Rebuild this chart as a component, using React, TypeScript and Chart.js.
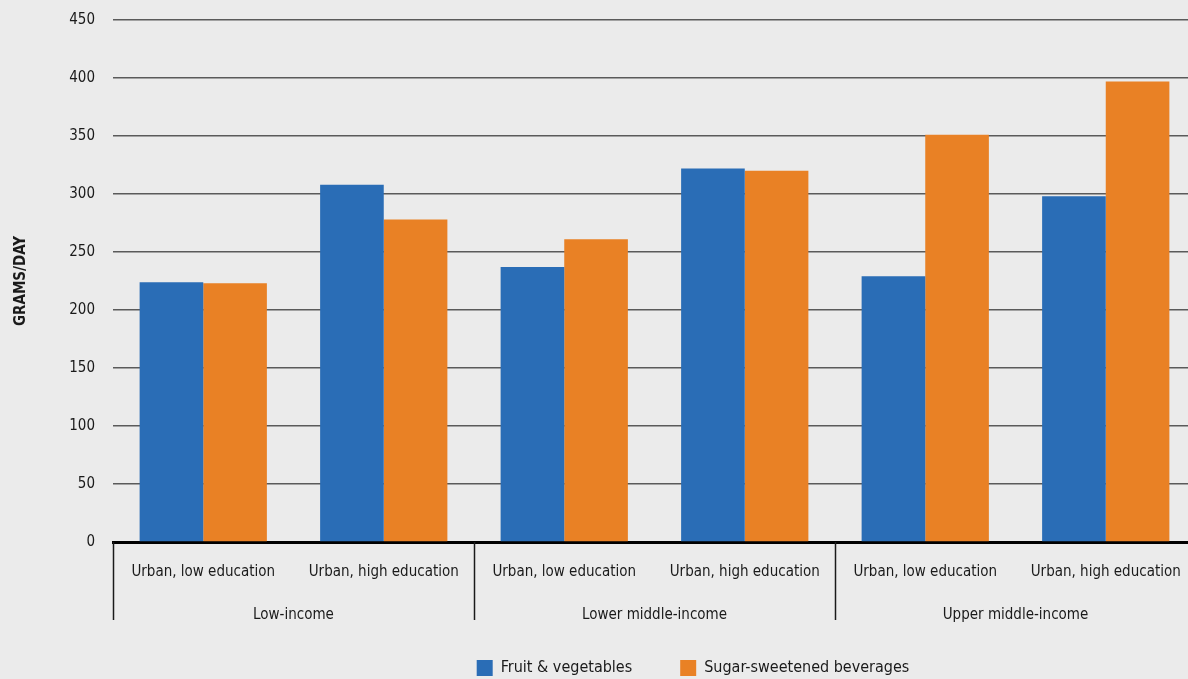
import React, { useEffect, useRef } from "react";
import { Chart, registerables } from "chart.js";

Chart.register(...registerables);

const subCategories = [
  "Urban, low education",
  "Urban, high education",
  "Urban, low education",
  "Urban, high education",
  "Urban, low education",
  "Urban, high education",
];
const groups = ["Low-income", "Lower middle-income", "Upper middle-income"];
const fruitVeg = [224, 308, 237, 322, 229, 298];
const sugarBev = [223, 278, 261, 320, 351, 397];
const seriesNames = ["Fruit & vegetables", "Sugar-sweetened beverages"];
const yMin = 0;
const yMax = 450;
const yStep = 50;
const yTitle = "GRAMS/DAY";

const FONT = '"Liberation Sans Narrow", "DejaVu Sans Condensed", "Open Sans", sans-serif';
const BLUE = "#2a6db6";
const ORANGE = "#e98125";
const TEXT = "#1a1a1a";

const groupPlugin = {
  id: "groupLabels",
  afterLayout(chart: any) {
    const lg = chart.legend;
    if (lg) {
      lg.left += 95;
      lg.right += 95;
    }
  },
  afterDraw(chart: any) {
    const x = chart.scales.x;
    const ctx = chart.ctx;
    const bottom = chart.chartArea.bottom;
    const step = x.getPixelForValue(1) - x.getPixelForValue(0);
    ctx.save();
    ctx.strokeStyle = "#1a1a1a";
    ctx.lineWidth = 1.5;
    ctx.fillStyle = TEXT;
    ctx.font = `15px ${FONT}`;
    ctx.textAlign = "center";
    ctx.textBaseline = "middle";
    for (let g = 0; g < groups.length; g++) {
      const l = x.getPixelForValue(2 * g) - step / 2;
      const r = x.getPixelForValue(2 * g + 1) + step / 2;
      ctx.beginPath();
      ctx.moveTo(Math.round(l) + 0.5, bottom);
      ctx.lineTo(Math.round(l) + 0.5, bottom + 78);
      ctx.stroke();
      if (g === groups.length - 1) {
        ctx.beginPath();
        ctx.moveTo(Math.round(r) + 0.5, bottom);
        ctx.lineTo(Math.round(r) + 0.5, bottom + 78);
        ctx.stroke();
      }
      ctx.fillText(groups[g], (l + r) / 2, bottom + 73);
    }
    ctx.restore();
  },
};

export default function App() {
  const ref = useRef<HTMLCanvasElement | null>(null);

  useEffect(() => {
    if (!ref.current) return;
    const chart = new Chart(ref.current, {
      type: "bar",
      data: {
        labels: subCategories,
        datasets: [
          {
            label: seriesNames[0],
            data: fruitVeg,
            backgroundColor: BLUE,
            borderWidth: 0,
            categoryPercentage: 0.705,
            barPercentage: 1,
          },
          {
            label: seriesNames[1],
            data: sugarBev,
            backgroundColor: ORANGE,
            borderWidth: 0,
            categoryPercentage: 0.705,
            barPercentage: 1,
          },
        ],
      },
      options: {
        responsive: false,
        animation: false,
        devicePixelRatio: 1,
        layout: { padding: { top: 20, left: 0, right: 0, bottom: 0 } },
        plugins: {
          tooltip: { enabled: false },
          legend: {
            position: "bottom",
            labels: {
              boxWidth: 16,
              boxHeight: 16,
              padding: 48,
              color: TEXT,
              font: { family: FONT, size: 16 },
            },
          },
        },
        scales: {
          x: {
            grid: { display: false, drawTicks: false },
            border: { display: true, color: "#000", width: 3 },
            ticks: {
              color: TEXT,
              padding: 21,
              maxRotation: 0,
              autoSkip: false,
              font: { family: FONT, size: 15 },
            },
            afterFit(scale: any) {
              scale.height = 70;
              scale.paddingLeft = 0;
              scale.paddingRight = 0;
            },
          },
          y: {
            min: yMin,
            max: yMax,
            ticks: {
              stepSize: yStep,
              color: TEXT,
              padding: 18,
              font: { family: FONT, size: 15 },
            },
            grid: { color: "#5a5a5a", lineWidth: 1.5, drawTicks: false },
            border: { display: false },
            title: {
              display: true,
              text: yTitle,
              color: TEXT,
              padding: { top: 12, bottom: 4 },
              font: { family: FONT, size: 15, weight: "bold" },
            },
            afterFit(scale: any) {
              scale.width = 113;
              scale.paddingTop = 0;
              scale.paddingBottom = 0;
            },
          },
        },
      },
      plugins: [groupPlugin],
    } as any);
    return () => chart.destroy();
  }, []);

  return (
    <div
      style={{
        position: "fixed",
        left: 0,
        top: 0,
        width: 1188,
        height: 679,
        overflow: "hidden",
        background: "#ebebeb",
      }}
    >
      <canvas ref={ref} width={1196} height={686} style={{ display: "block" }} />
    </div>
  );
}
